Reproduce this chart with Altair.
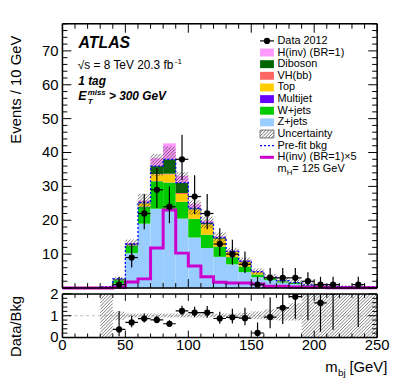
import math
import altair as alt
import pandas as pd

# ---------------- data ----------------
bin_lo = list(range(0, 250, 10))
z_jets   = [0, 0, 0, 0.2, 1.3, 10.3, 19.0, 23.4, 23.2, 20.5, 14.9, 11.8, 9.2, 7.0, 4.7, 3.2, 2.3, 1.6, 1.2, 0.7, 0.5, 0.4, 0.35, 0.3, 0.25]
w_jets   = [0, 0, 0, 0, 1.0, 2.2, 5.0, 8.1, 7.9, 4.9, 5.5, 3.9, 3.0, 2.1, 1.6, 0.8, 0.6, 0.4, 0.3, 0.15, 0.1, 0.08, 0.05, 0.05, 0.05]
multijet = [0, 0, 0, 0, 0.05, 0.1, 0.1, 0.05, 0.05, 0.05, 0.05, 0.05, 0.05, 0.05, 0.05, 0, 0, 0, 0, 0, 0, 0, 0, 0, 0]
top      = [0, 0, 0, 0, 0.15, 0.2, 0.8, 2.0, 2.4, 2.3, 2.7, 3.0, 2.2, 1.5, 1.4, 0.7, 0.2, 0.1, 0.05, 0, 0, 0, 0, 0, 0]
vhbb     = [0, 0, 0, 0, 0, 0, 0.1, 0.1, 0.2, 0.3, 0.1, 0.1, 0.1, 0.1, 0.1, 0.05, 0, 0, 0, 0, 0, 0, 0, 0, 0]
diboson  = [0, 0, 0, 0.1, 0.2, 0.2, 0.3, 2.35, 4.25, 3.05, 0.3, 0.35, 0.35, 0.05, 0.05, 0.05, 0.1, 0.1, 0.05, 0.05, 0.03, 0, 0, 0, 0]
hinv     = [0, 0, 0, 0.1, 0.05, 0.35, 0.55, 2.35, 4.7, 2.05, 1.3, 0.65, 0.35, 0.3, 0.3, 0.25, 0.1, 0.1, 0.06, 0.05, 0.04, 0.02, 0.02, 0.02, 0.02]
hinv_x5  = [0, 0, 0, 0, 0.2, 1.8, 2.7, 11.8, 23.0, 10.3, 6.5, 3.3, 1.7, 1.5, 1.5, 1.2, 0.5, 0.5, 0.3, 0.25, 0.2, 0.1, 0.1, 0.1, 0.1]
data_obs    = [0, 0, 0, 0, 1, 9, 22, 29, 24, 38, 27, 22, 13, 10, 7, 1, 3, 3, 3, 2, 1, 1, 0, 1, 0]
data_err_lo = [0, 0, 0, 0, 0.83, 2.94, 4.66, 5.37, 4.87, 6.14, 5.18, 4.66, 3.56, 3.11, 2.58, 0.83, 1.63, 1.63, 1.63, 1.29, 0.83, 0.83, 0, 0.83, 0]
data_err_hi = [0, 0, 0, 0, 2.30, 4.11, 5.76, 6.46, 5.97, 7.22, 6.27, 5.76, 4.67, 4.26, 3.77, 2.30, 2.92, 2.92, 2.92, 2.64, 2.30, 2.30, 0, 2.30, 0]
ratio_unc_lo = [0, 0, 0, 0, 0.8, 0.92, 0.92, 0.92, 0.92, 0.92, 0.92, 0.92, 0.92, 0.92, 0.88, 0.84, 0.8, 0.78, 0.78, 0, 0, 0, 0, 0, 0]
ratio_unc_hi = [0, 0, 0, 2.1, 1.18, 1.1, 1.1, 1.1, 1.1, 1.1, 1.1, 1.1, 1.1, 1.1, 1.14, 1.2, 1.3, 1.42, 1.58, 2.1, 2.1, 2.1, 2.1, 2.1, 2.1]

components = [
    ("Z+jets", z_jets, "#99ccff"),
    ("W+jets", w_jets, "#00cc00"),
    ("Multijet", multijet, "#6600ff"),
    ("Top", top, "#ffcc00"),
    ("VH(bb)", vhbb, "#ff6666"),
    ("Diboson", diboson, "#006600"),
    ("H(inv) (BR=1)", hinv, "#ff99ff"),
]
legend_items = [
    ("Data 2012", "data", None),
    ("H(inv) (BR=1)", "box", "#ff99ff"),
    ("Diboson", "box", "#006600"),
    ("VH(bb)", "box", "#ff6666"),
    ("Top", "box", "#ffcc00"),
    ("Multijet", "box", "#6600ff"),
    ("W+jets", "box", "#00cc00"),
    ("Z+jets", "box", "#99ccff"),
    ("Uncertainty", "hatch", None),
    ("Pre-fit bkg", "dash", "#0000ff"),
    ("H(inv) (BR=1)×5", "line", "#cc00cc"),
]
x_labels = [0, 50, 100, 150, 200, 250]
y_labels_main = [10, 20, 30, 40, 50, 60, 70]
y_labels_ratio = [0, 1, 2]

# ---------------- layout constants ----------------
W, HM, HR = 318, 267, 44
XMAX, YMAX, RMAX = 250.0, 78.0, 2.0
sx, sy, sr = W / XMAX, HM / YMAX, HR / RMAX
FONT = "Liberation Sans"
BW = 10

xs = alt.Scale(domain=[0, XMAX], nice=False, zero=False)
ys = alt.Scale(domain=[0, YMAX], nice=False, zero=False)
rs = alt.Scale(domain=[0, RMAX], nice=False, zero=False)

def px2x(px):
    return px / sx

def py2y(py):
    return YMAX - py / sy

bkg = [sum(c[1][i] for c in components[:6]) for i in range(len(bin_lo))]

rows = []
for i, lo in enumerate(bin_lo):
    cum = 0.0
    for name, vals, col in components:
        v = vals[i]
        if v > 0:
            rows.append({"lo": lo, "hi": lo + BW, "y0": cum, "y1": cum + v, "col": col})
        cum += v
stack_df = pd.DataFrame(rows)

step_x = bin_lo + [XMAX]
prefit_df = pd.DataFrame({"x": step_x, "y": bkg + [bkg[-1]]})
sig_df = pd.DataFrame({"x": step_x, "y": hinv_x5 + [hinv_x5[-1]]})

def hatch_rows(rects, sxp, syp, step=3.3):
    out = []
    for x0, x1, y0, y1 in rects:
        if y1 <= y0:
            continue
        X0, X1, Y0, Y1 = x0 * sxp, x1 * sxp, y0 * syp, y1 * syp
        k = math.floor((Y0 - X1) / step)
        while True:
            c = k * step
            if c > Y1 - X0:
                break
            xa = max(X0, Y0 - c)
            xb = min(X1, Y1 - c)
            if xb - xa > 0.05:
                out.append({"hx": xa / sxp, "hx2": xb / sxp, "hy": (xa + c) / syp, "hy2": (xb + c) / syp})
            k += 1
    return pd.DataFrame(out)

main_rects, ratio_rects = [], []
for i, lo in enumerate(bin_lo):
    if ratio_unc_hi[i] > 0:
        main_rects.append((lo, lo + BW, bkg[i] * ratio_unc_lo[i], min(bkg[i] * ratio_unc_hi[i], YMAX)))
        ratio_rects.append((lo, lo + BW, ratio_unc_lo[i], min(ratio_unc_hi[i], RMAX)))

LX0, LX1, LTX = 199.7, 213.7, 217.3
LROW0, LDY = 17.3, 11.76
for i, (lab, kind, col) in enumerate(legend_items):
    if kind == "hatch":
        cy = LROW0 + LDY * i
        main_rects.append((px2x(LX0), px2x(LX1), py2y(cy + 4), py2y(cy - 4)))

main_hatch_df = hatch_rows(main_rects, sx, sy)
ratio_hatch_df = hatch_rows(ratio_rects, sx, sr)

pts = []
for i, lo in enumerate(bin_lo):
    d = data_obs[i]
    if d > 0:
        pts.append({"lo": lo, "hi": lo + BW, "c": lo + BW / 2, "v": d,
                    "elo": d - data_err_lo[i], "ehi": d + data_err_hi[i],
                    "r": d / bkg[i], "rlo": (d - data_err_lo[i]) / bkg[i], "rhi": (d + data_err_hi[i]) / bkg[i]})
pts_df = pd.DataFrame(pts)

def X(f):
    return alt.X(f, scale=xs, axis=None)

def Y(f, sc):
    return alt.Y(f, scale=sc, axis=None)

def hatch_layer(df, yscale, color, width):
    return alt.Chart(df).mark_rule(color=color, strokeWidth=width).encode(
        x=X("hx:Q"), x2="hx2:Q", y=Y("hy:Q", yscale), y2="hy2:Q")

def points_layers(yfield, lofield, hifield, yscale, clip):
    ev = alt.Chart(pts_df).mark_rule(color="black", strokeWidth=1.2, clip=clip).encode(
        x=X("c:Q"), y=Y(f"{lofield}:Q", yscale), y2=f"{hifield}:Q")
    eh = alt.Chart(pts_df).mark_rule(color="black", strokeWidth=1.2, clip=clip).encode(
        x=X("lo:Q"), x2="hi:Q", y=Y(f"{yfield}:Q", yscale))
    dot = alt.Chart(pts_df).mark_circle(color="black", opacity=1, size=40, clip=clip).encode(
        x=X("c:Q"), y=Y(f"{yfield}:Q", yscale))
    return [ev, eh, dot]

def frame_layers(H):
    f = pd.DataFrame({"k": [0]})
    kw = dict(color="black", strokeWidth=1.5)
    return [
        alt.Chart(f).mark_rule(**kw).encode(x=alt.value(0), x2=alt.value(W), y=alt.value(0)),
        alt.Chart(f).mark_rule(**kw).encode(x=alt.value(0), x2=alt.value(W), y=alt.value(H)),
        alt.Chart(f).mark_rule(**kw).encode(x=alt.value(0), y=alt.value(0), y2=alt.value(H)),
        alt.Chart(f).mark_rule(**kw).encode(x=alt.value(W), y=alt.value(0), y2=alt.value(H)),
    ]

def tick_layers(xvals_major, xvals_minor, yvals_major, yvals_minor, yscale, H, xl, yl):
    out = []
    for vals, ln in ((xvals_major, xl[0]), (xvals_minor, xl[1])):
        df = pd.DataFrame({"v": vals})
        out.append(alt.Chart(df).mark_rule(color="black", strokeWidth=1).encode(
            x=X("v:Q"), y=alt.value(H), y2=alt.value(H - ln)))
        out.append(alt.Chart(df).mark_rule(color="black", strokeWidth=1).encode(
            x=X("v:Q"), y=alt.value(0), y2=alt.value(ln)))
    for vals, ln in ((yvals_major, yl[0]), (yvals_minor, yl[1])):
        df = pd.DataFrame({"v": vals})
        out.append(alt.Chart(df).mark_rule(color="black", strokeWidth=1).encode(
            y=Y("v:Q", yscale), x=alt.value(0), x2=alt.value(ln)))
        out.append(alt.Chart(df).mark_rule(color="black", strokeWidth=1).encode(
            y=Y("v:Q", yscale), x=alt.value(W), x2=alt.value(W - ln)))
    return out

def ylabel_layer(vals, yscale):
    return alt.Chart(pd.DataFrame({"v": vals})).mark_text(
        font=FONT, fontSize=15, align="right", baseline="middle", color="black").encode(
        x=alt.value(-4), y=Y("v:Q", yscale), text="v:Q")

def text(t, px, py, size=12, weight="normal", style="normal", align="left", baseline="alphabetic", angle=0):
    return alt.Chart(pd.DataFrame({"t": [t]})).mark_text(
        font=FONT, fontSize=size, fontWeight=weight, fontStyle=style, align=align, baseline=baseline,
        angle=angle, color="black").encode(x=alt.value(px), y=alt.value(py), text="t:N")

x_major = [0, 50, 100, 150, 200, 250]
x_minor = [v for v in range(0, 251, 10) if v % 50]

# ---------------- main panel ----------------
stack = alt.Chart(stack_df).mark_rect(strokeWidth=0).encode(
    x=X("lo:Q"), x2="hi:Q", y=Y("y0:Q", ys), y2="y1:Q", color=alt.Color("col:N", scale=None))
prefit = alt.Chart(prefit_df).mark_line(interpolate="step-after", color="#0000ff", strokeDash=[2, 2], strokeWidth=1.3).encode(
    x=X("x:Q"), y=Y("y:Q", ys))
sig = alt.Chart(sig_df).mark_line(interpolate="step-after", color="#cc00cc", strokeWidth=3).encode(
    x=X("x:Q"), y=Y("y:Q", ys))
main_hatch = hatch_layer(main_hatch_df, ys, "#444444", 0.75)
main_ticks = tick_layers(x_major, x_minor, list(range(0, 71, 10)), [v for v in range(0, 79, 2) if v % 10],
                         ys, HM, (9, 5), (9, 5))

labels = [
    text("ATLAS", 16.3, 24.3, 16, "bold", "italic"),
    text("√s = 8 TeV  20.3 fb", 15.5, 46, 12),
    text("-1", 113.5, 40.5, 8),
    text("1 tag", 16, 61.5, 12, "bold", "italic"),
    text("E", 16, 77.5, 12.5, "bold", "italic"),
    text("miss", 25.5, 71.5, 8, "bold", "italic"),
    text("T", 25.5, 81.5, 8, "bold", "italic"),
    text("> 300 GeV", 47, 77.5, 12, "bold", "italic"),
    text("Events / 10 GeV", -39, 12, 15, align="right", baseline="bottom", angle=270),
    ylabel_layer(y_labels_main, ys),
]

leg_text_rows, leg_box_rows = [], []
for i, (lab, kind, col) in enumerate(legend_items):
    cy = LROW0 + LDY * i
    leg_text_rows.append({"t": lab, "x": px2x(LTX), "y": py2y(cy)})
    if kind == "box":
        leg_box_rows.append({"x": px2x(LX0), "x2": px2x(LX1), "y": py2y(cy + 4), "y2": py2y(cy - 4), "col": col})
cy_m = LROW0 + LDY * len(legend_items)
leg_text_df = pd.DataFrame(leg_text_rows)
leg_box_df = pd.DataFrame(leg_box_rows)

legend_layers = [
    alt.Chart(leg_text_df).mark_text(font=FONT, fontSize=11, align="left", baseline="middle", color="black").encode(
        x=X("x:Q"), y=Y("y:Q", ys), text="t:N"),
    alt.Chart(leg_box_df).mark_rect(strokeWidth=0).encode(
        x=X("x:Q"), x2="x2:Q", y=Y("y:Q", ys), y2="y2:Q", color=alt.Color("col:N", scale=None)),
]
cy_unc = LROW0 + LDY * 8
legend_layers.append(alt.Chart(pd.DataFrame([{"x": px2x(LX0), "x2": px2x(LX1), "y": py2y(cy_unc + 4), "y2": py2y(cy_unc - 4)}]))
                     .mark_rect(fill="white", fillOpacity=0, stroke="#555555", strokeWidth=0.8).encode(
    x=X("x:Q"), x2="x2:Q", y=Y("y:Q", ys), y2="y2:Q"))
for idx, col, dash, wd in ((0, "black", None, 1.2), (9, "#0000ff", [2, 2], 1.3), (10, "#cc00cc", None, 3)):
    cy = LROW0 + LDY * idx
    kw = dict(color=col, strokeWidth=wd)
    if dash:
        kw["strokeDash"] = dash
    legend_layers.append(alt.Chart(pd.DataFrame([{"x": px2x(LX0), "x2": px2x(LX1), "y": py2y(cy)}])).mark_rule(**kw).encode(
        x=X("x:Q"), x2="x2:Q", y=Y("y:Q", ys)))
legend_layers.append(alt.Chart(pd.DataFrame([{"x": px2x((LX0 + LX1) / 2), "y": py2y(LROW0)}])).mark_circle(
    color="black", opacity=1, size=40).encode(x=X("x:Q"), y=Y("y:Q", ys)))
legend_layers += [
    text("m", LTX, cy_m + 3.5, 11),
    text("H", LTX + 9.3, cy_m + 6.5, 8),
    text("= 125 GeV", LTX + 15, cy_m + 3.5, 11),
]

main = alt.layer(
    stack, main_hatch, prefit, sig, *points_layers("v", "elo", "ehi", ys, False),
    *main_ticks, *frame_layers(HM), *labels, *legend_layers
).properties(width=W, height=HM)

# ---------------- ratio panel ----------------
one_df = pd.DataFrame([{"x": 0, "x2": XMAX, "y": 1.0}])
unity = alt.Chart(one_df).mark_rule(color="#bbbbbb", strokeDash=[3, 3], strokeWidth=1).encode(
    x=X("x:Q"), x2="x2:Q", y=Y("y:Q", rs))
ratio_hatch = hatch_layer(ratio_hatch_df, rs, "#666666", 0.85)
ratio_ticks = tick_layers(x_major, x_minor, [0, 1, 2], [0.2, 0.4, 0.6, 0.8, 1.2, 1.4, 1.6, 1.8],
                          rs, HR, (7, 4), (9, 5))
xlab = alt.Chart(pd.DataFrame({"v": x_labels})).mark_text(
    font=FONT, fontSize=15, align="center", baseline="top", color="black").encode(
    x=X("v:Q"), y=alt.value(HR + 1), text="v:Q")
ratio_texts = [
    xlab,
    ylabel_layer(y_labels_ratio, rs),
    text("Data/Bkg", -39, 2, 15, align="right", baseline="bottom", angle=270),
    text("m", 265.5, 79, 15),
    text("bj", 278.5, 83, 10),
    text("[GeV]", 290, 79, 15),
]
ratio = alt.layer(
    unity, ratio_hatch, *points_layers("r", "rlo", "rhi", rs, True), *ratio_ticks, *frame_layers(HR), *ratio_texts
).properties(width=W, height=HR)

chart = alt.vconcat(main, ratio, spacing=6, bounds="flush").properties(
    padding={"left": 0, "top": 12, "right": 0, "bottom": 0}
).configure_view(strokeWidth=0).configure(font=FONT)

chart.save("out.html", embed_options={"renderer": "svg", "actions": False})
